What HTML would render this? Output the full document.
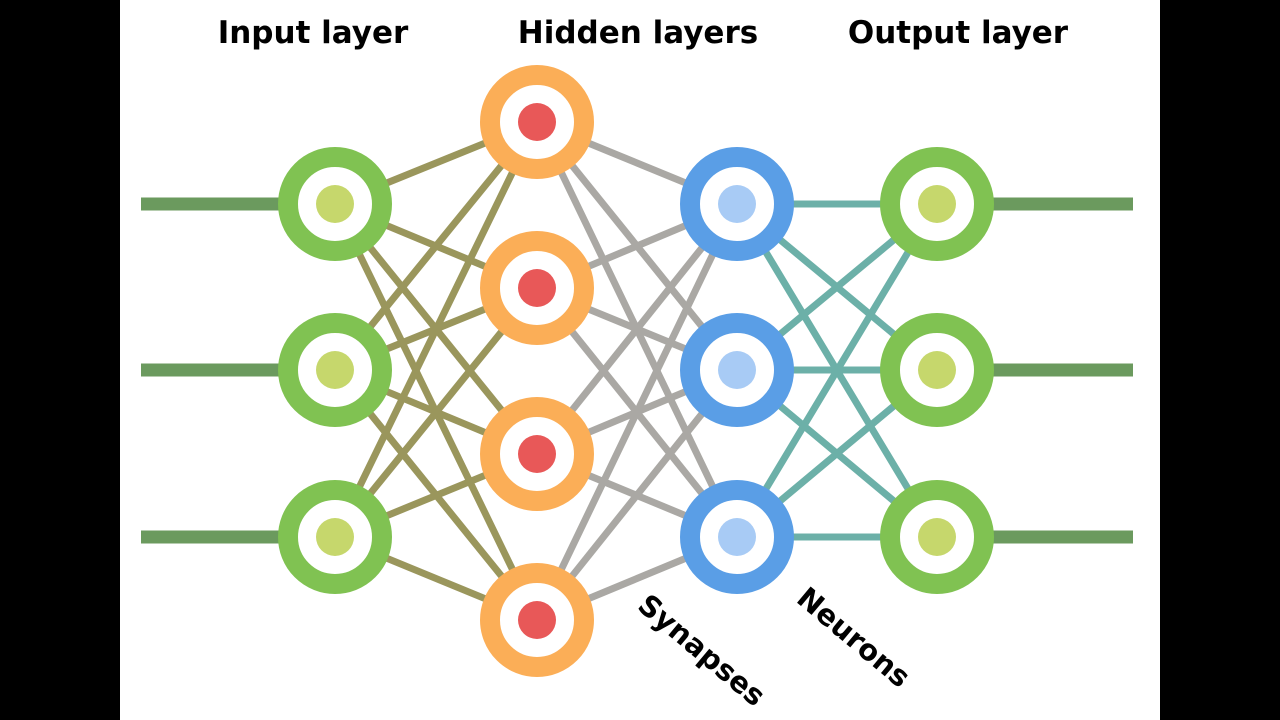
<!DOCTYPE html>
<html><head><style>
html,body{margin:0;padding:0;background:#000;}
svg{display:block}
text{font-family:"DejaVu Sans","Liberation Sans",sans-serif;font-weight:bold;fill:#000}
</style></head><body>
<svg width="1280" height="720" viewBox="0 0 1280 720" xmlns="http://www.w3.org/2000/svg">
<rect x="0" y="0" width="1280" height="720" fill="#000"/>
<rect x="120" y="0" width="1040" height="720" fill="#fff"/>
<g stroke-width="13" stroke="#6b9a5e">
<line x1="141" y1="204" x2="300" y2="204"/><line x1="141" y1="370" x2="300" y2="370"/><line x1="141" y1="537" x2="300" y2="537"/>
<line x1="970" y1="204" x2="1133" y2="204"/><line x1="970" y1="370" x2="1133" y2="370"/><line x1="970" y1="537" x2="1133" y2="537"/>
</g>
<g stroke-width="7" stroke="#9a965c">
<line x1="335" y1="204" x2="537" y2="122"/><line x1="335" y1="204" x2="537" y2="288"/><line x1="335" y1="204" x2="537" y2="454"/><line x1="335" y1="204" x2="537" y2="620"/>
<line x1="335" y1="370" x2="537" y2="122"/><line x1="335" y1="370" x2="537" y2="288"/><line x1="335" y1="370" x2="537" y2="454"/><line x1="335" y1="370" x2="537" y2="620"/>
<line x1="335" y1="537" x2="537" y2="122"/><line x1="335" y1="537" x2="537" y2="288"/><line x1="335" y1="537" x2="537" y2="454"/><line x1="335" y1="537" x2="537" y2="620"/>
</g>
<g stroke-width="7" stroke="#aaa8a4">
<line x1="537" y1="122" x2="737" y2="204"/><line x1="537" y1="122" x2="737" y2="370"/><line x1="537" y1="122" x2="737" y2="537"/>
<line x1="537" y1="288" x2="737" y2="204"/><line x1="537" y1="288" x2="737" y2="370"/><line x1="537" y1="288" x2="737" y2="537"/>
<line x1="537" y1="454" x2="737" y2="204"/><line x1="537" y1="454" x2="737" y2="370"/><line x1="537" y1="454" x2="737" y2="537"/>
<line x1="537" y1="620" x2="737" y2="204"/><line x1="537" y1="620" x2="737" y2="370"/><line x1="537" y1="620" x2="737" y2="537"/>
</g>
<g stroke-width="7" stroke="#6cb0a8">
<line x1="737" y1="204" x2="937" y2="204"/><line x1="737" y1="204" x2="937" y2="370"/><line x1="737" y1="204" x2="937" y2="537"/>
<line x1="737" y1="370" x2="937" y2="204"/><line x1="737" y1="370" x2="937" y2="370"/><line x1="737" y1="370" x2="937" y2="537"/>
<line x1="737" y1="537" x2="937" y2="204"/><line x1="737" y1="537" x2="937" y2="370"/><line x1="737" y1="537" x2="937" y2="537"/>
</g>
<g stroke-width="20" fill="#fff">
<g stroke="#80c252"><circle cx="335" cy="204" r="47"/><circle cx="335" cy="370" r="47"/><circle cx="335" cy="537" r="47"/>
<circle cx="937" cy="204" r="47"/><circle cx="937" cy="370" r="47"/><circle cx="937" cy="537" r="47"/></g>
<g stroke="#fbae57"><circle cx="537" cy="122" r="47"/><circle cx="537" cy="288" r="47"/><circle cx="537" cy="454" r="47"/><circle cx="537" cy="620" r="47"/></g>
<g stroke="#5a9ee6"><circle cx="737" cy="204" r="47"/><circle cx="737" cy="370" r="47"/><circle cx="737" cy="537" r="47"/></g>
</g>
<g fill="#c6d76c"><circle cx="335" cy="204" r="19"/><circle cx="335" cy="370" r="19"/><circle cx="335" cy="537" r="19"/>
<circle cx="937" cy="204" r="19"/><circle cx="937" cy="370" r="19"/><circle cx="937" cy="537" r="19"/></g>
<g fill="#e85858"><circle cx="537" cy="122" r="19"/><circle cx="537" cy="288" r="19"/><circle cx="537" cy="454" r="19"/><circle cx="537" cy="620" r="19"/></g>
<g fill="#a8cbf5"><circle cx="737" cy="204" r="19"/><circle cx="737" cy="370" r="19"/><circle cx="737" cy="537" r="19"/></g>
<text x="313" y="43" font-size="31" text-anchor="middle">Input layer</text>
<text x="638" y="43" font-size="31" text-anchor="middle">Hidden layers</text>
<text x="958" y="43" font-size="31" text-anchor="middle">Output layer</text>
<text x="0" y="0" font-size="29" transform="translate(636,608) rotate(40)">Synapses</text>
<text x="0" y="0" font-size="29" transform="translate(795,601) rotate(40)">Neurons</text>
</svg>
</body></html>
